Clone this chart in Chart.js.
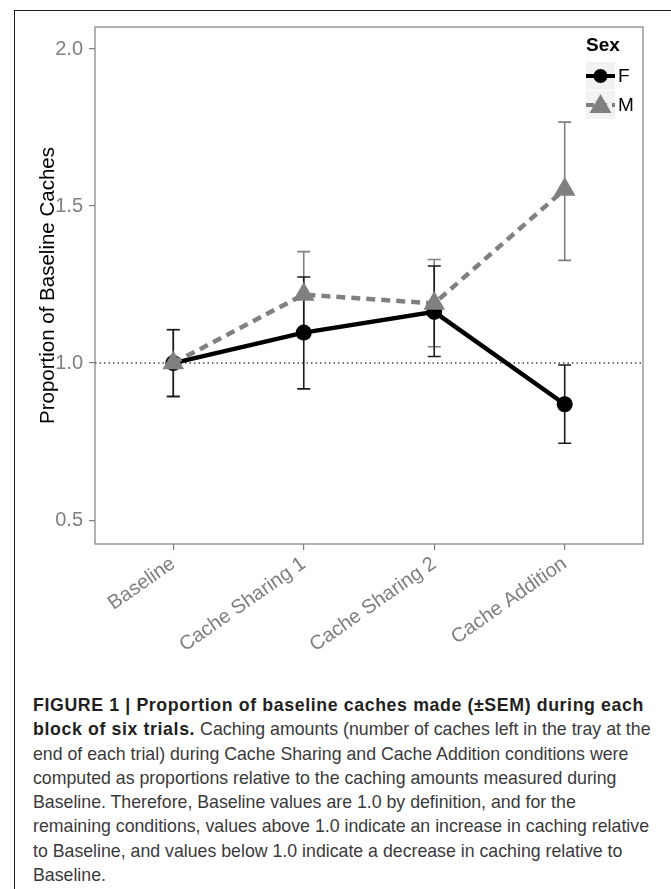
<!DOCTYPE html>
<html>
<head>
<meta charset="utf-8">
<script src="https://cdn.jsdelivr.net/npm/chart.js@4"></script>
<style>
  body { margin: 0; background: #fff; font-family: "Liberation Sans", Arial, sans-serif; }
  #wrap { position: relative; width: 671px; height: 889px; overflow: hidden; }
  #frame { position: absolute; left: 14px; top: 10px; width: 680px; height: 900px;
           border-top: 1.5px solid #231f20; border-left: 1.5px solid #231f20; }
  #chart { position: absolute; left: 0; top: 0; }
  #legend { position: absolute; left: 586px; top: 34px; color: #000; }
  #legend .title { font-weight: bold; font-size: 19px; margin-bottom: 5px; }
  #legend .row { height: 29px; display: flex; align-items: center; }
  #legend .key { width: 29px; height: 28px; background: #f2f2f2; margin-right: 3px; }
  #legend .lab { font-size: 19px; }
  #caption { position: absolute; left: 33px; top: 693px; font-size: 19px; line-height: 24.3px;
             color: #3a3a3a; transform-origin: 0 0; }
  #caption div { white-space: nowrap; }
  #caption b { color: #231f20; }
</style>
</head>
<body>
<div id="wrap">
  <div id="frame"></div>
  <canvas id="chart" width="671" height="690"></canvas>
  <div id="legend">
    <div class="title">Sex</div>
    <div class="row"><svg class="key" width="29" height="28"><line x1="0" y1="14" x2="29" y2="14" stroke="#000" stroke-width="4"/><circle cx="14.5" cy="14" r="7" fill="#000"/></svg><span class="lab">F</span></div>
    <div class="row"><svg class="key" width="29" height="28"><line x1="0" y1="14" x2="29" y2="14" stroke="#808080" stroke-width="4" stroke-dasharray="8 5"/><polygon points="14.5,3 25.5,22 3.5,22" fill="#808080"/></svg><span class="lab">M</span></div>
  </div>
  <div id="caption">
    <div><b id="cap1">FIGURE 1 | Proportion of baseline caches made (±SEM) during each</b></div>
    <div><b>block of six trials.</b> Caching amounts (number of caches left in the tray at the</div>
    <div>end of each trial) during Cache Sharing and Cache Addition conditions were</div>
    <div>computed as proportions relative to the caching amounts measured during</div>
    <div>Baseline. Therefore, Baseline values are 1.0 by definition, and for the</div>
    <div id="cap6">remaining conditions, values above 1.0 indicate an increase in caching relative</div>
    <div>to Baseline, and values below 1.0 indicate a decrease in caching relative to</div>
    <div>Baseline.</div>
  </div>
</div>
<script>
// data
var conditions = ["Baseline", "Cache Sharing 1", "Cache Sharing 2", "Cache Addition"];
var yTicks = [0.5, 1.0, 1.5, 2.0];

var femaleMean = [1.0, 1.097, 1.163, 0.869];
var femaleLow = [0.894, 0.918, 1.021, 0.745];
var femaleHigh = [1.106, 1.274, 1.309, 0.994];

var maleMean = [1.0, 1.218, 1.190, 1.553];
var maleLow = [0.893, 1.081, 1.052, 1.327];
var maleHigh = [1.107, 1.355, 1.330, 1.767];

function points(arr) {
  return arr.map(function (v, i) { return { x: i, y: v }; });
}

var gray = '#7f7f7f';

// error bars, reference line and panel border
var extras = {
  id: 'extras',
  beforeDatasetsDraw: function (chart) {
    var ctx = chart.ctx, xs = chart.scales.x, ys = chart.scales.y, a = chart.chartArea;
    ctx.save();
    // dotted line at 1.0
    ctx.strokeStyle = '#444';
    ctx.lineWidth = 1.5;
    ctx.setLineDash([1.5, 3]);
    ctx.beginPath();
    ctx.moveTo(a.left, ys.getPixelForValue(1));
    ctx.lineTo(a.right, ys.getPixelForValue(1));
    ctx.stroke();
    ctx.setLineDash([]);
    var bars = [[maleLow, maleHigh, '#808080'], [femaleLow, femaleHigh, '#1a1a1a']];
    bars.forEach(function (b) {
      ctx.strokeStyle = b[2];
      ctx.lineWidth = 1.6;
      for (var i = 0; i < conditions.length; i++) {
        var x = xs.getPixelForValue(i);
        var y1 = ys.getPixelForValue(b[0][i]);
        var y2 = ys.getPixelForValue(b[1][i]);
        ctx.beginPath();
        ctx.moveTo(x, y1); ctx.lineTo(x, y2);
        ctx.moveTo(x - 6.5, y1); ctx.lineTo(x + 6.5, y1);
        ctx.moveTo(x - 6.5, y2); ctx.lineTo(x + 6.5, y2);
        ctx.stroke();
      }
    });
    ctx.restore();
  },
  afterDraw: function (chart) {
    var ctx = chart.ctx, a = chart.chartArea;
    ctx.save();
    ctx.strokeStyle = gray;
    ctx.lineWidth = 1.2;
    ctx.strokeRect(a.left, a.top, a.right - a.left, a.bottom - a.top);
    ctx.restore();
  }
};

var ctx = document.getElementById('chart');

var data = {
  datasets: [{
    label: 'M',
    data: points(maleMean),
    borderColor: '#808080',
    backgroundColor: '#808080',
    borderWidth: 4.5,
    borderDash: [9, 6],
    pointStyle: 'triangle',
    pointRadius: 12.5,
    pointBorderWidth: 0,
    order: 0
  }, {
    label: 'F',
    data: points(femaleMean),
    borderColor: '#000',
    backgroundColor: '#000',
    borderWidth: 4.5,
    pointStyle: 'circle',
    pointRadius: 8,
    pointBorderWidth: 0,
    order: 1
  }]
}

var options = {
  responsive: false,
  animation: false,
  devicePixelRatio: 1,
  layout: { padding: { top: 27, right: 28, left: 0, bottom: 0 } },
  plugins: { legend: { display: false }, tooltip: { enabled: false } },
  scales: {
    x: {
      type: 'linear',
      min: -0.6,
      max: 3.6,
      afterBuildTicks: function (s) { s.ticks = conditions.map(function (c, i) { return { value: i }; }); },
      afterFit: function (s) { s.height = 690 - 544; },
      grid: { drawOnChartArea: false, color: gray, tickLength: 6, lineWidth: 1.2 },
      border: { display: false },
      ticks: {
        minRotation: 35, maxRotation: 35, autoSkip: false, padding: 2,
        color: gray, font: { size: 20, family: 'Liberation Sans' },
        callback: function (v) { return conditions[v]; }
      }
    },
    y: {
      min: 0.424,
      max: 2.07,
      afterBuildTicks: function (s) { s.ticks = yTicks.map(function (v) { return { value: v }; }); },
      afterFit: function (s) { s.width = 95; },
      grid: { drawOnChartArea: false, color: gray, tickLength: 6, lineWidth: 1.2 },
      border: { display: false },
      title: {
        display: true, text: 'Proportion of Baseline Caches', color: '#000',
        font: { size: 20.5, family: 'Liberation Sans' }, padding: { top: 36, bottom: 0 }
      },
      ticks: {
        color: gray, font: { size: 20, family: 'Liberation Sans' }, padding: 6,
        callback: function (v) { return v.toFixed(1); }
      }
    }
  }
}

var myChart = new Chart(ctx, {
  type: 'line',
  data: data,
  options: options,
  plugins: [extras]
});

// squeeze caption: widest plain line to 616px, bold first line to 611px
var cap = document.getElementById('caption');
function textWidth(el) {
  var r = document.createRange();
  r.selectNodeContents(el);
  return r.getBoundingClientRect().width;
}
var scale = 616 / textWidth(document.getElementById('cap6'));
var b1 = document.getElementById('cap1');
var extra = 611 / scale - textWidth(b1);
if (extra > 0) {
  var ls = extra / b1.textContent.length;
  Array.prototype.forEach.call(cap.querySelectorAll('b'), function (b) { b.style.letterSpacing = ls + 'px'; });
}
cap.style.transform = 'scaleX(' + scale + ')';
</script>
</body>
</html>
